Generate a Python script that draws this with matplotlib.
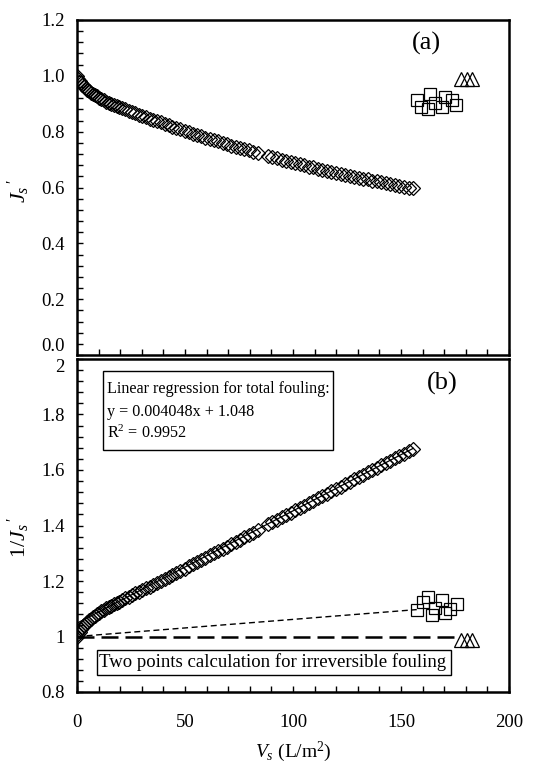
import matplotlib
matplotlib.use("Agg")
import matplotlib.pyplot as plt
from matplotlib.ticker import MultipleLocator, FixedLocator, FixedFormatter
from matplotlib.patches import Rectangle

plt.rcParams['font.family'] = ['Liberation Serif', 'DejaVu Serif']
plt.rcParams['mathtext.fontset'] = 'custom'
plt.rcParams['mathtext.rm'] = 'Liberation Serif'
plt.rcParams['mathtext.it'] = 'Liberation Serif:italic'
plt.rcParams['mathtext.bf'] = 'Liberation Serif:bold'

# ---------------- data ----------------
vs_total = [0, 0.6, 1.2, 1.8, 2.5, 3.2, 4, 4.8, 5.6, 6.5,
            7.4, 8.3, 9.2, 10.2, 11.2, 12.3, 13.4, 14.6, 15.8, 17,
            18.3, 19.6, 21, 22.4, 23.9, 25.4, 27, 28.6, 30.2, 31.9,
            33.6, 35.3, 37, 38.8, 40.6, 42.4, 44.2, 46, 47.9, 49.8,
            51.7, 53.6, 55.5, 57.4, 59.4, 61.4, 63.4, 65.4, 67.4, 69.4,
            71.4, 73.4, 75.4, 77.4, 79.4, 81.4, 83.6, 88.5, 90.5, 92.6,
            94.7, 96.8, 98.9, 101, 103.1, 105.2, 107.3, 109.4, 111.5, 113.6,
            115.7, 117.8, 119.9, 122, 124.1, 126.2, 128.3, 130.4, 132.5, 134.6,
            136.7, 138.8, 140.9, 143, 145.1, 147.2, 149.3, 151.4, 153.5, 155.7]

js_total = [1.000, 0.990, 0.982, 0.975, 0.968, 0.962, 0.956, 0.951, 0.945, 0.940,
            0.935, 0.930, 0.926, 0.921, 0.917, 0.912, 0.908, 0.904, 0.900, 0.896,
            0.892, 0.888, 0.883, 0.880, 0.875, 0.870, 0.866, 0.861, 0.857, 0.852,
            0.847, 0.842, 0.838, 0.833, 0.828, 0.823, 0.818, 0.813, 0.808, 0.803,
            0.798, 0.793, 0.789, 0.784, 0.779, 0.774, 0.769, 0.765, 0.760, 0.755,
            0.750, 0.746, 0.741, 0.737, 0.733, 0.728, 0.722, 0.712, 0.708, 0.704,
            0.700, 0.695, 0.692, 0.687, 0.683, 0.679, 0.675, 0.672, 0.668, 0.664,
            0.660, 0.657, 0.653, 0.649, 0.646, 0.642, 0.639, 0.635, 0.632, 0.629,
            0.625, 0.622, 0.618, 0.615, 0.612, 0.609, 0.606, 0.603, 0.600, 0.597]

inv_js_total = [1.000, 1.010, 1.018, 1.026, 1.033, 1.040, 1.046, 1.052, 1.058, 1.064,
                1.070, 1.075, 1.080, 1.086, 1.091, 1.096, 1.101, 1.106, 1.111, 1.116,
                1.121, 1.126, 1.132, 1.137, 1.143, 1.149, 1.155, 1.161, 1.167, 1.174,
                1.180, 1.187, 1.194, 1.201, 1.208, 1.215, 1.222, 1.230, 1.237, 1.245,
                1.253, 1.261, 1.268, 1.276, 1.284, 1.292, 1.300, 1.308, 1.316, 1.324,
                1.333, 1.341, 1.349, 1.357, 1.365, 1.373, 1.385, 1.405, 1.412, 1.421,
                1.429, 1.438, 1.446, 1.455, 1.464, 1.472, 1.481, 1.489, 1.498, 1.506,
                1.515, 1.523, 1.532, 1.540, 1.549, 1.557, 1.566, 1.574, 1.583, 1.591,
                1.600, 1.608, 1.617, 1.625, 1.634, 1.642, 1.651, 1.659, 1.668, 1.676]

# squares (after physical cleaning)
vs_rev_a = [157.3, 159.1, 163.4, 162.3, 165.7, 168.8, 170.4, 173.5, 175.5]
js_rev = [0.913, 0.887, 0.934, 0.880, 0.901, 0.887, 0.925, 0.913, 0.895]
vs_rev_b = [157.3, 160.3, 162.3, 164.2, 165.7, 168.8, 170.4, 172.7, 175.8]
inv_js_rev = [1.097, 1.124, 1.142, 1.077, 1.103, 1.131, 1.083, 1.100, 1.116]

# triangles (after chemical cleaning)
vs_irr = [178.0, 180.4, 182.7]
js_irr = [0.990, 0.990, 0.990]
inv_js_irr = [0.987, 0.987, 0.987]

# linear regression for total fouling
reg_slope = 0.004048
reg_intercept = 1.048
reg_x = [0, 155.7]

# two-point lines
two_pt_rev_x = [0, 157.3]
two_pt_rev_y = [1.0, 1.097]
two_pt_irr_x = [0, 178.0]
two_pt_irr_y = [1.0, 1.0]

a_yticks = [0.0, 0.2, 0.4, 0.6, 0.8, 1.0, 1.2]
a_yticklabels = ['0.0', '0.2', '0.4', '0.6', '0.8', '1.0', '1.2']
b_yticks = [0.8, 1.0, 1.2, 1.4, 1.6, 1.8, 2.0]
b_yticklabels = ['0.8', '1', '1.2', '1.4', '1.6', '1.8', '2']
xticks = [0, 50, 100, 150, 200]
xticklabels = ['0', '50', '100', '150', '200']

# ---------------- figure ----------------
W, H = 549, 767
fig = plt.figure(figsize=(W / 100, H / 100), dpi=100)

def frac(l, r, t, b):
    return [l / W, 1 - b / H, (r - l) / W, (b - t) / H]

ax_a = fig.add_axes(frac(77, 509, 20, 355))
ax_b = fig.add_axes(frac(77, 509, 359, 692))

mk = dict(linestyle='none', markerfacecolor='none', markeredgecolor='black',
          markeredgewidth=0.9)

# panel (a)
ax_a.plot(vs_total, js_total, marker='D', markersize=7.2, **mk)
ax_a.plot(vs_rev_a, js_rev, marker='s', markersize=9.2, **mk)
ax_a.plot(vs_irr, js_irr, marker='^', markersize=9.5, **mk)

# panel (b)
ax_b.plot(reg_x, [reg_intercept + reg_slope * v for v in reg_x],
          color='black', lw=0.9)
ax_b.plot(two_pt_rev_x, two_pt_rev_y, color='black', lw=1.0,
          linestyle=(0, (4.3, 2.6)))
ax_b.plot(two_pt_irr_x, two_pt_irr_y, color='black', lw=1.8,
          linestyle=(0, (6.8, 2.8)))
ax_b.plot(vs_total, inv_js_total, marker='D', markersize=7.2, **mk)
ax_b.plot(vs_rev_b, inv_js_rev, marker='s', markersize=9.2, **mk)
ax_b.plot(vs_irr, inv_js_irr, marker='^', markersize=9.5, **mk)

for ax in (ax_a, ax_b):
    ax.set_xlim(0, 200)
    ax.xaxis.set_major_locator(FixedLocator(xticks))
    ax.xaxis.set_minor_locator(MultipleLocator(10))
    ax.yaxis.set_minor_locator(MultipleLocator(0.04))
    ax.tick_params(which='both', direction='in', length=4.3, width=1.0,
                   top=False, right=False, labelsize=13.5)
    for s in ax.spines.values():
        s.set_linewidth(1.8)

ax_a.set_ylim(0, 1.2)
ax_a.yaxis.set_major_locator(FixedLocator(a_yticks))
ax_a.yaxis.set_major_formatter(FixedFormatter(a_yticklabels))
ax_a.tick_params(axis='x', labelbottom=False)
ax_a.tick_params(axis='y', pad=9)

ax_b.set_ylim(0.8, 2.0)
ax_b.yaxis.set_major_locator(FixedLocator(b_yticks))
ax_b.yaxis.set_major_formatter(FixedFormatter(b_yticklabels))
ax_b.xaxis.set_major_formatter(FixedFormatter(xticklabels))
ax_b.tick_params(axis='x', pad=16)
ax_b.tick_params(axis='y', pad=9)

# nudge the two labels at the join between panels apart (as in the reference)
ax_a.yaxis.get_major_ticks()[0].label1.set_va('bottom')
ax_b.yaxis.get_major_ticks()[-1].label1.set_va('top')

ax_a.set_ylabel(r"$J_s\,'$", fontsize=16)
ax_a.yaxis.set_label_coords(-0.104, 0.49)
ax_b.set_ylabel(r"$1/J_s\,'$", fontsize=16)
ax_b.yaxis.set_label_coords(-0.104, 0.465)
ax_b.set_xlabel(r"$V_s$ (L/m$^2$)", fontsize=14)
ax_b.xaxis.set_label_coords(0.5, -0.142)

ax_a.text(0.808, 0.931, "(a)", transform=ax_a.transAxes, fontsize=19,
          ha='center', va='center')
ax_b.text(0.845, 0.928, "(b)", transform=ax_b.transAxes, fontsize=19,
          ha='center', va='center')

# regression box
ax_b.add_patch(Rectangle((0.0602, 0.727), 0.5324, 0.237, transform=ax_b.transAxes,
                         facecolor='white', edgecolor='black', lw=1.0, zorder=5))
for txt, yb in [("Linear regression for total fouling:", 0.898),
                ("y = 0.004048x + 1.048", 0.829),
                (r"R$^2$ = 0.9952", 0.763)]:
    ax_b.text(0.0694, yb, txt, transform=ax_b.transAxes, fontsize=11.6,
              ha='left', va='baseline', zorder=6)

# two-points box
ax_b.add_patch(Rectangle((0.0463, 0.051), 0.8194, 0.075, transform=ax_b.transAxes,
                         facecolor='white', edgecolor='black', lw=1.0, zorder=5))
ax_b.text(0.4525, 0.076, "Two points calculation for irreversible fouling",
          transform=ax_b.transAxes, fontsize=13.5, ha='center', va='baseline',
          zorder=6)

fig.savefig("out.png", dpi=100)
